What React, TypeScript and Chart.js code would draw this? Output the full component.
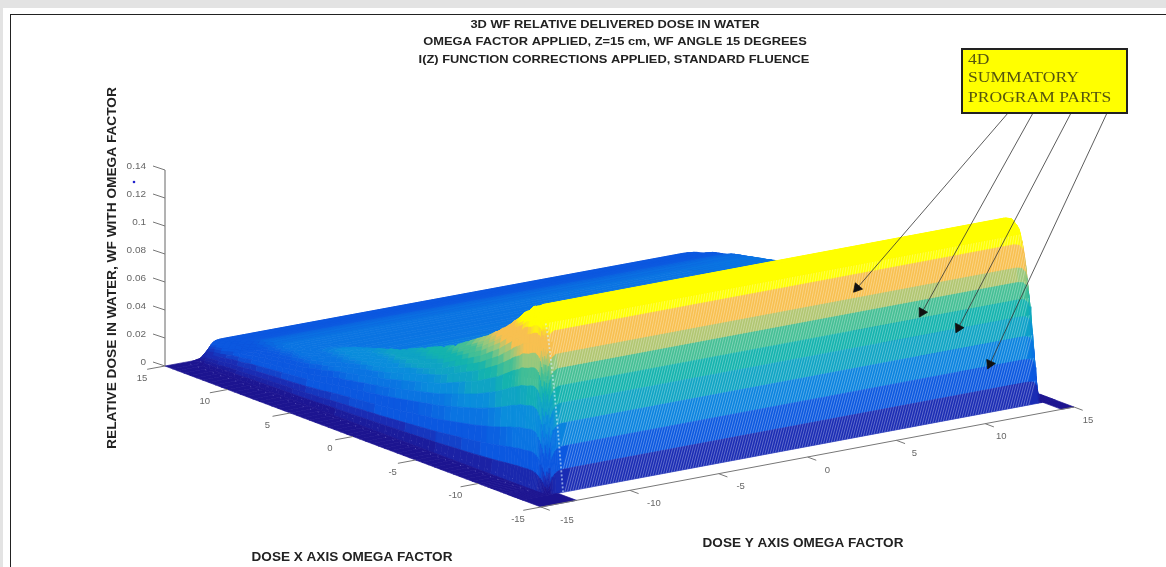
import React, { useEffect, useRef } from "react";
import { Chart, registerables } from "chart.js";

Chart.register(...registerables);

// ---------- values ----------
const titleLines = [
  "3D WF RELATIVE DELIVERED DOSE IN WATER",
  "OMEGA FACTOR APPLIED, Z=15 cm, WF ANGLE 15 DEGREES",
  "I(Z) FUNCTION CORRECTIONS APPLIED, STANDARD FLUENCE",
];
const xAxisTitle = "DOSE X AXIS OMEGA FACTOR";
const yAxisTitle = "DOSE Y AXIS OMEGA FACTOR";
const zAxisTitle = "RELATIVE DOSE IN WATER, WF WITH OMEGA FACTOR";
const calloutLines = ["4D", "SUMMATORY", "PROGRAM PARTS"];

const xTicks = [15, 10, 5, 0, -5, -10, -15];
const yTicks = [-15, -10, -5, 0, 5, 10, 15];
const zTicks = [0, 0.02, 0.04, 0.06, 0.08, 0.1, 0.12, 0.14];

// X rows of the surface (far to near)
const xGrid = [15, 14.4, 14, 13.5, 13, 12.5, 12, 11.5, 11, 10.5, 10, 9.5, 9, 8.5, 8, 7.5, 7, 6.5, 6, 5.5, 5, 4.5, 4, 3.5, 3, 2.5, 2, 1.5, 1, 0.5, 0, -0.5, -1, -1.5, -2, -2.5, -3, -3.5, -4, -4.5, -5, -5.5, -6, -6.5, -7, -7.5, -8, -8.5, -9, -9.5, -10, -10.25, -10.5, -10.75, -11, -11.25, -11.5, -11.75, -12, -12.15, -12.3, -12.4, -12.5, -12.6, -12.7, -12.8, -12.9, -13, -13.1, -13.2, -13.3, -13.4, -13.5, -15];
// dose on the inner plateau for each X row
const plateauDose = [0, 0.009, 0.017, 0.019, 0.02, 0.022, 0.024, 0.025, 0.026, 0.028, 0.029, 0.03, 0.031, 0.032, 0.033, 0.034, 0.035, 0.035, 0.036, 0.036, 0.037, 0.037, 0.038, 0.038, 0.039, 0.04, 0.04, 0.041, 0.042, 0.042, 0.043, 0.044, 0.045, 0.046, 0.047, 0.048, 0.049, 0.05, 0.05, 0.051, 0.052, 0.053, 0.054, 0.055, 0.056, 0.057, 0.058, 0.059, 0.061, 0.064, 0.072, 0.08, 0.09, 0.102, 0.113, 0.12, 0.125, 0.128, 0.129, 0.128, 0.126, 0.123, 0.118, 0.112, 0.105, 0.096, 0.086, 0.074, 0.062, 0.048, 0.032, 0.016, 0, 0];
// dose on the raised rim at the Y = -13 side for each X row
const rimDose = [0, 0.009, 0.017, 0.019, 0.02, 0.022, 0.024, 0.025, 0.026, 0.028, 0.029, 0.03, 0.031, 0.032, 0.033, 0.034, 0.035, 0.036, 0.037, 0.039, 0.04, 0.042, 0.044, 0.046, 0.047, 0.049, 0.05, 0.052, 0.053, 0.055, 0.056, 0.058, 0.06, 0.062, 0.064, 0.066, 0.068, 0.07, 0.072, 0.074, 0.077, 0.08, 0.083, 0.086, 0.089, 0.092, 0.096, 0.1, 0.104, 0.109, 0.114, 0.117, 0.119, 0.121, 0.124, 0.125, 0.126, 0.128, 0.129, 0.128, 0.126, 0.123, 0.118, 0.112, 0.105, 0.096, 0.086, 0.074, 0.062, 0.048, 0.032, 0.016, 0, 0];
// Y columns of the surface with their edge weights
const yGrid = [-15, -13.6, -13.5, -13.45, -13.4, -13.35, -13.3, -13.25, -13.2, -13.15, -13.1, -13.05, -13, -12.95, -12.9, -12.8, -12.7, -12.6, -12.5, -12.25, -12, -11.75, -11.5, -11.25, -11, -10.75, -10.5, 13.3, 13.6, 13.8, 13.9, 14, 14.05, 14.1, 14.15, 14.2, 14.3, 15];
const edgeWeight = [0, 0, 0.1, 0.2, 0.32, 0.45, 0.56, 0.66, 0.74, 0.8, 0.85, 0.89, 0.92, 0.94, 0.96, 0.98, 0.99, 1, 1, 1, 1, 1, 1, 1, 1, 1, 1, 1, 0.99, 0.96, 0.91, 0.78, 0.6, 0.38, 0.2, 0.08, 0, 0];
const rimWeight = [0, 0, 0.1, 0.2, 0.32, 0.45, 0.56, 0.66, 0.74, 0.8, 0.85, 0.89, 0.92, 0.94, 0.96, 0.98, 0.99, 1, 1, 0.9, 0.8, 0.65, 0.5, 0.35, 0.2, 0.1, 0, 0, 0, 0, 0, 0, 0, 0, 0, 0, 0, 0];

// colour bands: upper dose limit and colour
const bandLimits = [0.004, 0.012, 0.028, 0.04, 0.052, 0.064, 0.074, 0.084, 0.093, 0.111, 1];
const bandColors = ["#1c1490", "#1a2cb4", "#0b58e0", "#0a74e2", "#0a8ddc", "#0fa4c4", "#14b3ae", "#45bf95", "#9ac87c", "#f8c050", "#ffff00"];

// where the four callout arrows land on the wall
const arrowTipY = [4.2, 7.85, 9.9, 11.67];
const arrowTipDose = [0.104, 0.078, 0.062, 0.032];
const arrowTailX = [1008, 1033, 1071, 1107];

// ---------- view ----------
const W = 1166;
const H = 567;
const CA = { x: 165, y: 366 }; // X=15,  Y=-15
const CB = { x: 541, y: 507 }; // X=-15, Y=-15
const CC = { x: 1074, y: 407 }; // X=-15, Y=15
const CD = { x: 700, y: 267 }; // X=15,  Y=15
const ZK = 1400;
const BOX = { l: 962, t: 49, r: 1127, b: 113 };
const QUANT = 0.0015;
const SOFT = 0.003;

function project(X: number, Y: number, z: number) {
  const u = (15 - X) / 30;
  const v = (Y + 15) / 30;
  const x = (1 - u) * (1 - v) * CA.x + u * (1 - v) * CB.x + u * v * CC.x + (1 - u) * v * CD.x;
  const y = (1 - u) * (1 - v) * CA.y + u * (1 - v) * CB.y + u * v * CC.y + (1 - u) * v * CD.y;
  return { x, y: y - z * ZK };
}

function doseAt(i: number, j: number) {
  return plateauDose[i] * edgeWeight[j] + (rimDose[i] - plateauDose[i]) * rimWeight[j];
}

function rgb(hex: string) {
  return [parseInt(hex.slice(1, 3), 16), parseInt(hex.slice(3, 5), 16), parseInt(hex.slice(5, 7), 16)];
}

// band colour with a soft step around each limit, as in the blurred reference
function colorOf(q: number) {
  const z = q * QUANT;
  let k = 0;
  while (k < bandLimits.length - 1 && z > bandLimits[k]) k++;
  let c = rgb(bandColors[k]);
  if (k < bandLimits.length - 1 && bandLimits[k] - z < SOFT) {
    const t = 0.5 * (1 - (bandLimits[k] - z) / SOFT);
    const n = rgb(bandColors[k + 1]);
    c = c.map((v, m) => v + (n[m] - v) * t);
  } else if (k > 0 && z - bandLimits[k - 1] < SOFT) {
    const t = 0.5 * (1 - (z - bandLimits[k - 1]) / SOFT);
    const n = rgb(bandColors[k - 1]);
    c = c.map((v, m) => v + (n[m] - v) * t);
  }
  return `rgb(${Math.round(c[0])},${Math.round(c[1])},${Math.round(c[2])})`;
}

function lineSet(pts: { x: number; y: number }[], color: string, width: number, dash?: number[]) {
  return { data: pts, showLine: true, fill: false, borderColor: color, borderWidth: width, borderDash: dash || [], pointRadius: 0, tension: 0 };
}

function buildDatasets() {
  const surface: any[] = [];
  for (let i = 0; i < xGrid.length - 1; i++) {
    let j = yGrid.length - 2;
    const bandFor = (c: number) => Math.round((doseAt(i, c) + doseAt(i + 1, c) + doseAt(i, c + 1) + doseAt(i + 1, c + 1)) / 4 / QUANT);
    const skip = (c: number) => xGrid[i] <= -13.5 && yGrid[c] >= -13 && yGrid[c + 1] <= 14.3;
    while (j >= 0) {
      if (skip(j)) {
        j--;
        continue;
      }
      const b = bandFor(j);
      let end = j;
      while (end - 1 >= 0 && bandFor(end - 1) === b && !skip(end - 1)) end--;
      const far: { x: number; y: number }[] = [];
      const near: { x: number; y: number }[] = [];
      for (let c = j + 1; c >= end; c--) {
        far.push(project(xGrid[i], yGrid[c], doseAt(i, c)));
        near.push(project(xGrid[i + 1], yGrid[c], doseAt(i + 1, c)));
      }
      const poly = [...far, ...near.reverse()];
      poly.push(poly[0]);
      const col = colorOf(b);
      surface.push({
        data: poly,
        showLine: true,
        fill: "shape",
        backgroundColor: col,
        borderColor: col,
        borderWidth: 0.7,
        pointRadius: 0,
        tension: 0,
      });
      j = end - 1;
    }
  }

  const overlay: any[] = [];
  // wall mesh: strongly leaning strands, kept inside the wall
  const LEAN = 3.5;
  for (let Y = -12.7; Y <= 13.95 + LEAN; Y += 0.15) {
    const light: { x: number; y: number }[] = [];
    for (let i = 0; i < xGrid.length - 1; i++) {
      if (xGrid[i] > -12.5) continue;
      const t = plateauDose[i] / 0.13;
      const yy = Y + (t - 1) * LEAN;
      const edge = -12.7 - 0.3 * t;
      if (yy < edge || yy > 13.95) continue;
      light.push(project(xGrid[i], yy, plateauDose[i]));
    }
    if (light.length > 1) overlay.push(lineSet(light, "rgba(255,255,255,0.3)", 1));
  }
  // pale dashed seam at the corner of the two walls
  const seam: { x: number; y: number }[] = [];
  for (let i = 0; i < xGrid.length - 1; i++) {
    if (xGrid[i] > -12.5) continue;
    const t = plateauDose[i] / 0.13;
    seam.push(project(xGrid[i], -12.7 - 0.3 * t, plateauDose[i]));
  }
  overlay.push(lineSet(seam, "rgba(215,240,255,0.6)", 1.8, [2, 2]));
  // pale specks on the floor strip
  overlay.push(lineSet([project(15, -14, 0.001), project(-13, -14, 0.001)], "rgba(200,200,255,0.35)", 1, [1, 7]));
  overlay.push(lineSet([project(15, -13.5, 0.002), project(-13, -13.5, 0.002)], "rgba(200,200,255,0.25)", 1, [1, 8]));

  // axes
  overlay.push(lineSet([project(-15, -15, 0), project(-15, 15, 0)], "#777", 1));
  overlay.push(lineSet([project(15, -15, 0), project(15, -15, 0.14)], "#666", 1));
  for (const v of xTicks) overlay.push(lineSet([project(v, -15, 0), project(v, -16, 0)], "#777", 1));
  for (const v of yTicks) overlay.push(lineSet([project(-15, v, 0), project(-15.7, v, 0)], "#777", 1));
  for (const v of zTicks) {
    const p = project(15, -15, v);
    overlay.push(lineSet([p, { x: p.x - 12, y: p.y - 4 }], "#777", 1));
  }

  // stray marker beside the dose axis
  overlay.push({
    data: [{ x: 134, y: 182 }],
    showLine: false,
    pointRadius: 1.3,
    backgroundColor: "#2222cc",
    borderWidth: 0,
  });

  // callout arrows
  arrowTipY.forEach((Y, k) => {
    const tip = project(-13, Y, arrowTipDose[k]);
    const tail = { x: arrowTailX[k], y: BOX.b };
    const angle = (Math.atan2(tip.x - tail.x, tail.y - tip.y) * 180) / Math.PI;
    overlay.push({
      data: [tail, tip],
      showLine: true,
      fill: false,
      borderColor: "#333",
      borderWidth: 0.8,
      pointRadius: [0, 5.5],
      pointStyle: "triangle",
      pointRotation: angle,
      pointBackgroundColor: "#111",
      pointBorderColor: "#111",
      tension: 0,
    });
  });

  // first dataset is painted last by Chart.js
  return [...overlay.reverse(), ...surface.reverse()];
}

const textPlugin = {
  id: "sceneText",
  afterDraw(chart: any) {
    const ctx = chart.ctx as CanvasRenderingContext2D;
    const sx = chart.scales.x;
    const sy = chart.scales.y;
    // horizontally stretched text, as the reference image is stretched
    const text = (s: string, x: number, y: number, stretch = 1) => {
      ctx.save();
      ctx.translate(sx.getPixelForValue(x), sy.getPixelForValue(y));
      ctx.scale(stretch, 1);
      ctx.fillText(s, 0, 0);
      ctx.restore();
    };
    ctx.save();
    ctx.textBaseline = "middle";

    ctx.fillStyle = "#222";
    ctx.textAlign = "center";
    ctx.font = "bold 11px 'Liberation Sans'";
    text(titleLines[0], 615, 25, 1.17);
    text(titleLines[1], 615, 42, 1.17);
    text(titleLines[2], 614, 60, 1.17);

    ctx.font = "bold 12px 'Liberation Sans'";
    text(xAxisTitle, 352, 558, 1.13);
    text(yAxisTitle, 803, 544, 1.13);

    ctx.save();
    ctx.translate(113, 268);
    ctx.rotate(-Math.PI / 2);
    ctx.scale(1.14, 1);
    ctx.fillText(zAxisTitle, 0, 0);
    ctx.restore();

    ctx.fillStyle = "#666";
    ctx.font = "9.5px 'Liberation Sans'";
    ctx.textAlign = "right";
    for (const v of zTicks) {
      const p = project(15, -15, v);
      text(String(v), 146, p.y - 4, 1.05);
    }
    ctx.textAlign = "center";
    for (const v of xTicks) {
      const p = project(v, -15, 0);
      text(String(v), p.x - 23, p.y + 12);
    }
    for (const v of yTicks) {
      const p = project(-15, v, 0);
      text(String(v), p.x + 26 - (v + 15) * 0.4, p.y + 13);
    }

    // callout box
    ctx.fillStyle = "#ffff00";
    ctx.fillRect(BOX.l, BOX.t, BOX.r - BOX.l, BOX.b - BOX.t);
    ctx.strokeStyle = "#222";
    ctx.lineWidth = 2;
    ctx.strokeRect(BOX.l, BOX.t, BOX.r - BOX.l, BOX.b - BOX.t);
    ctx.fillStyle = "#55550f";
    ctx.textAlign = "left";
    ctx.font = "15px 'Liberation Serif'";
    text(calloutLines[0], 968, 60, 1.17);
    text(calloutLines[1], 968, 78, 1.17);
    text(calloutLines[2], 968, 98, 1.17);
    ctx.restore();
  },
};

export default function App() {
  const ref = useRef<HTMLCanvasElement>(null);
  useEffect(() => {
    document.body.style.margin = "0";
    const chart = new Chart(ref.current as HTMLCanvasElement, {
      type: "scatter",
      data: { datasets: buildDatasets() as any },
      options: {
        animation: false,
        responsive: false,
        events: [],
        normalized: true,
        layout: { padding: 0, autoPadding: false },
        clip: false as any,
        scales: {
          x: { type: "linear", min: 0, max: W, display: false },
          y: { type: "linear", min: 0, max: H, reverse: true, display: false },
        },
        plugins: { legend: { display: false }, tooltip: { enabled: false }, title: { display: false } },
      },
      plugins: [textPlugin as any],
    });
    return () => chart.destroy();
  }, []);
  return (
    <div style={{ position: "fixed", left: 0, top: 0, width: W, height: H, background: "#e3e3e3", overflow: "hidden" }}>
      <div style={{ position: "absolute", left: 3, top: 8, right: 0, bottom: 0, background: "#fff" }} />
      <div style={{ position: "absolute", left: 10, top: 14, right: -4, bottom: -4, borderLeft: "1.5px solid #222", borderTop: "1.5px solid #222" }} />
      <canvas ref={ref} width={W} height={H} style={{ position: "absolute", left: 0, top: 0, width: W, height: H, filter: "blur(0.6px)" }} />
    </div>
  );
}
